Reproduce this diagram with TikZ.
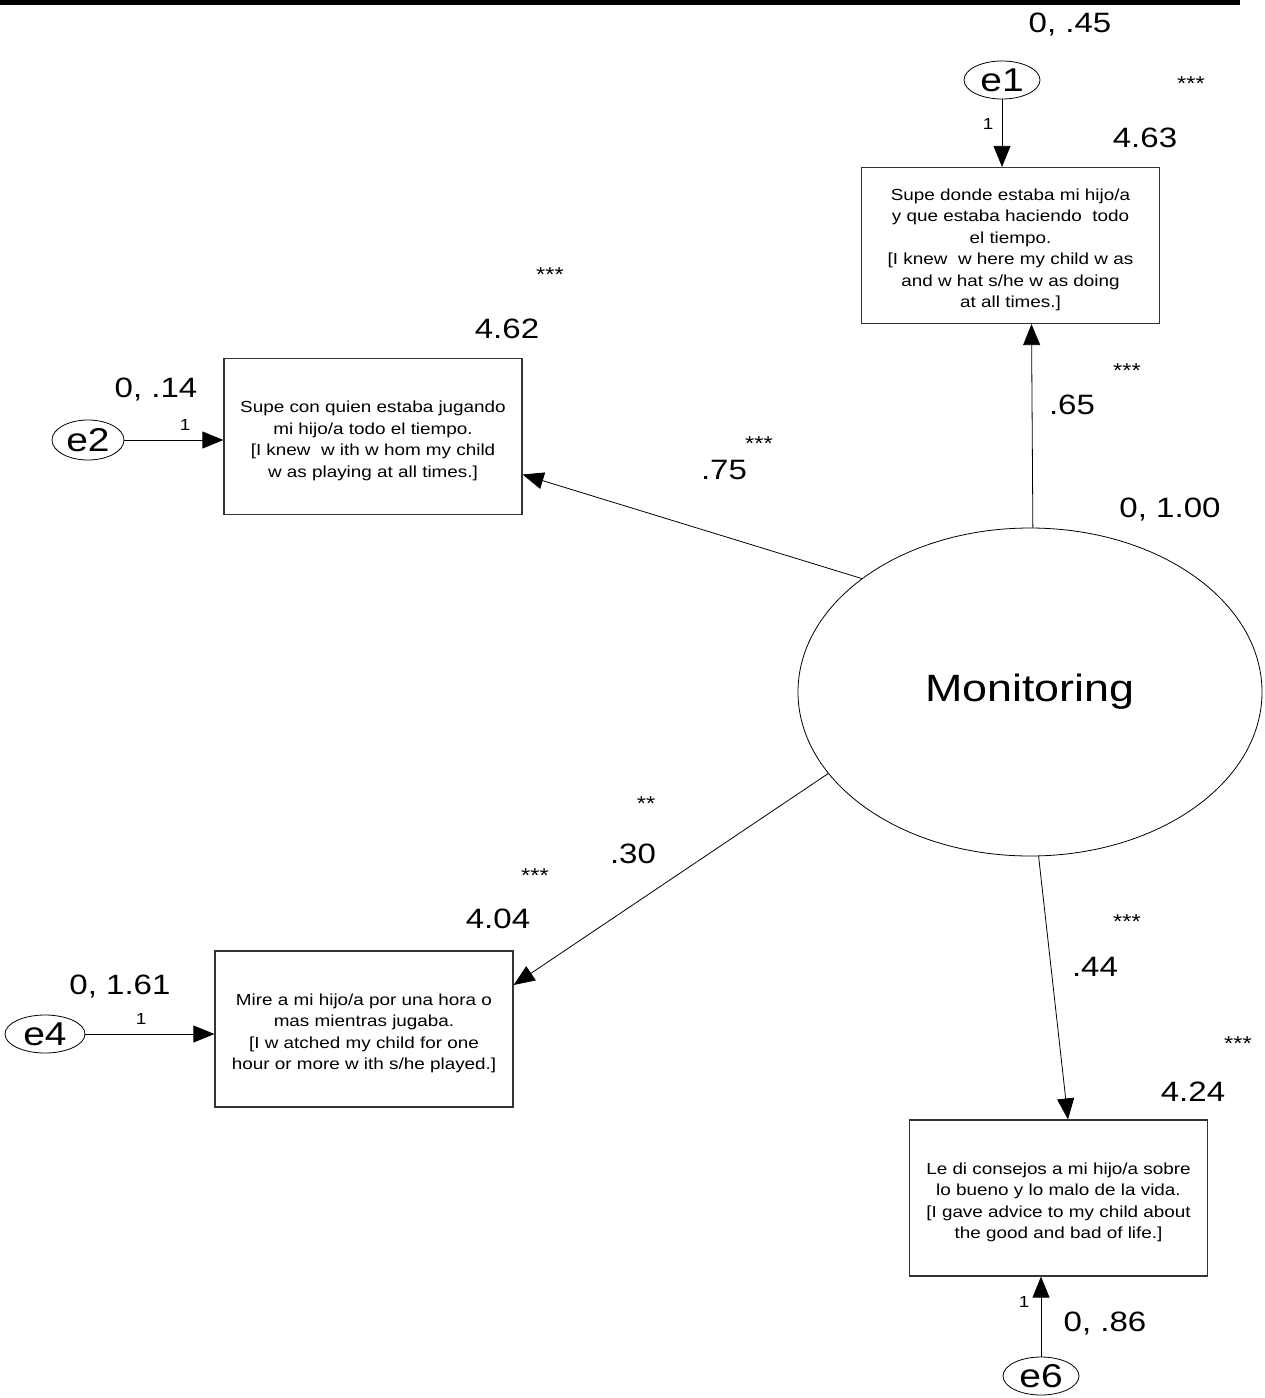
\documentclass[tikz,border=0pt]{standalone}
\usepackage{fontspec}
\setmainfont{Liberation Sans}[FakeStretch=1.18]
\usetikzlibrary{shapes.geometric,arrows.meta,calc}
\newcommand{\toppad}{\rule{0pt}{20.5pt}}
\begin{document}
\begin{tikzpicture}[x=1pt,y=-1pt,
  box/.style={draw=black!80,line width=1.2pt,minimum width=298pt,minimum height=156pt,inner sep=0pt,align=center,font=\fontsize{16}{21.5}\selectfont},
  err/.style={ellipse,draw,line width=0.8pt,minimum width=76pt,minimum height=38pt,inner sep=0pt,font=\fontsize{33}{33}\selectfont},
  lat/.style={ellipse,draw,line width=0.8pt,minimum width=464pt,minimum height=328pt,inner sep=0pt,font=\fontsize{38}{38}\selectfont},
  arr/.style={line width=0.8pt,-{Triangle[length=21pt,width=17pt]}},
  val/.style={font=\fontsize{28}{28}\selectfont,inner sep=0pt,text depth=0pt},
  sig/.style={font=\fontsize{20}{20}\selectfont,inner sep=0pt},
  one/.style={font=\fontsize{16}{16}\selectfont,inner sep=0pt}]
\useasboundingbox (0,0) rectangle (1265,1398);
\fill (0,0) rectangle (1240,4.5);

\node[box] (b1) at (1010.5,245.5) {\toppad Supe donde estaba mi hijo/a\\y que estaba haciendo~ todo\\el tiempo.\\{[}I knew~ w here my child w as\\and w hat s/he w as doing\\at all times.]};
\node[box] (b2) at (373,436.5) {\toppad Supe con quien estaba jugando\\mi hijo/a todo el tiempo.\\{[}I knew~ w ith w hom my child\\w as playing at all times.]};
\node[box] (b4) at (364,1029) {\toppad Mire a mi hijo/a por una hora o\\mas mientras jugaba.\\{[}I w atched my child for one\\hour or more w ith s/he played.]};
\node[box] (b6) at (1058.5,1198) {\toppad Le di consejos a mi hijo/a sobre\\lo bueno y lo malo de la vida.\\{[}I gave advice to my child about\\the good and bad of life.]};

\node[err] (e1) at (1002,80) {e1};
\node[err,minimum width=72pt,minimum height=40pt] (e2) at (88,440) {e2};
\node[err,minimum width=80pt] (e4) at (45,1034) {e4};
\node[err] (e6) at (1041,1376) {e6};
\node[lat] (M) at (1030,692) {Monitoring};

\draw[arr] (e1.south) -- (e1.south |- b1.north);
\draw[arr] (e2.east) -- (e2.east -| b2.west);
\draw[arr] (e4.east) -- (e4.east -| b4.west);
\draw[arr] (e6.north) -- (e6.north |- b6.south);
\draw[arr] (M.89) -- ($(b1.south)+(21,0)$);
\draw[arr] (M.146) -- ($(b2.east)+(0,38)$);
\draw[arr] (M.202) -- ($(b4.east)+(0,-44)$);
\draw[arr] (M.-87) -- ($(b6.north)+(9.5,0)$);

\node[val] (v45) at (1070,23) {0, .45};
\node[sig] (s1) at (1191,84) {***};
\node[one] (o1) at (988,124) {1};
\node[val] (m1) at (1145,138) {4.63};
\node[sig] (s2) at (550,275) {***};
\node[val] (m2) at (507,329) {4.62};
\node[val] (v14) at (156,388) {0, .14};
\node[one] (o2) at (185,425) {1};
\node[sig] (s3) at (1127,371) {***};
\node[val] (l65) at (1072,405) {.65};
\node[sig] (s4) at (759,444) {***};
\node[val] (l75) at (724,470) {.75};
\node[val] (v100) at (1170,508) {0, 1.00};
\node[sig] (s5) at (646,804) {**};
\node[val] (l30) at (633,854) {.30};
\node[sig] (s6) at (535,876) {***};
\node[val] (m4) at (498,919) {4.04};
\node[val] (v161) at (120,985) {0, 1.61};
\node[one] (o4) at (141,1019) {1};
\node[sig] (s7) at (1127,922) {***};
\node[val] (l44) at (1095,967) {.44};
\node[sig] (s8) at (1238,1044) {***};
\node[val] (m6) at (1193,1092) {4.24};
\node[one] (o6) at (1024,1302) {1};
\node[val] (v86) at (1105,1322) {0, .86};
\end{tikzpicture}
\end{document}
